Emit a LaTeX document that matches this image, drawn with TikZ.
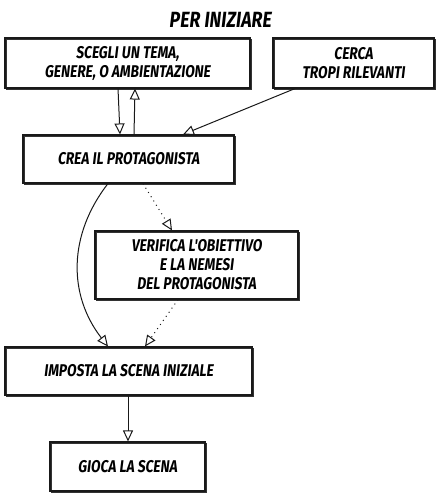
\documentclass[tikz,border=0pt]{standalone}
\usepackage{fontspec}
\newfontfamily\hand[FakeStretch=0.8,FakeSlant=0.12]{Fira Sans}
\usetikzlibrary{arrows.meta,calc}
\begin{document}
\begin{tikzpicture}[x=1pt,y=-1pt,
  sk/.style={draw=black!90, line width=1.1pt, rectangle, align=center,
    font=\hand\bfseries\fontsize{17}{19}\selectfont, inner sep=0pt,
    preaction={draw=black!80, line width=0.6pt, transform canvas={xshift=1pt,yshift=-0.9pt}}},
  conn/.style={draw=black!90, line width=1pt, -{Triangle[open,length=11pt,width=10pt,line width=1pt]}},
  dotconn/.style={conn, dash pattern=on 1pt off 4pt},
  ttl/.style={font=\hand\bfseries\fontsize{22}{24}\selectfont}]
\useasboundingbox (0,0) rectangle (440,497);
\node[ttl] (T) at (220,20) {PER INIZIARE};
\node[sk, minimum width=245pt, minimum height=50pt] (A) at (127.5,63) {SCEGLI UN TEMA,\\GENERE, O AMBIENTAZIONE};
\node[sk, minimum width=161pt, minimum height=50pt] (B) at (353.5,63) {CERCA\\TROPI RILEVANTI};
\node[sk, minimum width=211pt, minimum height=48pt] (C) at (128.5,159) {CREA IL PROTAGONISTA};
\node[sk, minimum width=203pt, minimum height=68pt] (D) at (196.5,265) {VERIFICA L'OBIETTIVO\\E LA NEMESI\\DEL PROTAGONISTA};
\node[sk, minimum width=247pt, minimum height=48pt] (E) at (128.5,371) {IMPOSTA LA SCENA INIZIALE};
\node[sk, minimum width=155pt, minimum height=49pt] (F) at (127.5,466.5) {GIOCA LA SCENA};
\draw[conn] ($(A.south)+(-9.5,0)$) -- ($(C.north)+(-8.5,0)$);
\draw[conn] ($(C.north)+(5.5,0)$) -- ($(A.south)+(7.5,0)$);
\draw[conn] ($(B.south)+(-58.5,0)$) -- ($(C.north)+(54.5,0)$);
\draw[conn] ($(C.south)+(-20.5,0)$) .. controls (68,235) and (68,295) .. ($(E.north)+(-20.5,0)$);
\draw[dotconn] ($(C.south)+(14.5,0)$) -- ($(D.north)+(-24.5,0)$);
\draw[dotconn] ($(D.south)+(-18.5,0)$) -- ($(E.north)+(16.5,0)$);
\draw[conn] ($(E.south)+(-0.5,0)$) -- ($(F.north)+(0.5,0)$);
\end{tikzpicture}
\end{document}
